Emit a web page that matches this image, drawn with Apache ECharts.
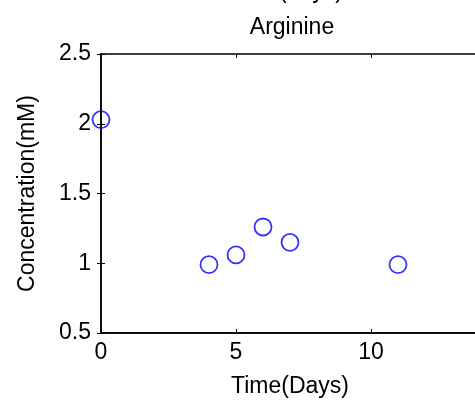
<!DOCTYPE html>
<html>
<head>
    <meta charset="utf-8">
    <title>Arginine</title>
    <script src="https://cdn.jsdelivr.net/npm/echarts@6/dist/echarts.min.js"></script>
    <style>
        html, body { margin: 0; padding: 0; background: #fff; }
    </style>
</head>
<body>
    <div id="main" style="width:475px;height:411px;"></div>
    <script type="text/javascript">

        // measured points (time in days, concentration in mM)
        var days = [0, 4, 5, 6, 7, 11];
        var conc = [2.03, 0.99, 1.06, 1.26, 1.15, 0.99];

        var points = days.map(function (d, i) {
            return [d, conc[i]];
        });

        var myChart = echarts.init(document.getElementById('main'));
        var font = 'Liberation Sans, Arial, sans-serif';

        var option = {
            animation: false,
            backgroundColor: '#fff',
            title: {
                text: 'Arginine',
                left: 287,
                top: 11,
                textAlign: 'center',
                textStyle: { fontFamily: font, fontSize: 23, fontWeight: 'normal', color: '#000' }
            },
            graphic: [{
                type: 'text',
                left: 279,
                top: -20,
                style: { text: '(days)', font: '23px ' + font, fill: '#000' }
            }],
            grid: {
                left: 101,
                top: 54,
                width: 378,
                height: 279,
                outerBoundsMode: 'none',
                show: true,
                borderColor: '#000',
                borderWidth: 1.5,
                backgroundColor: '#fff'
            },
            xAxis: [{
                type: 'value',
                min: 0,
                max: 14,
                interval: 5,
                name: 'Time(Days)',
                nameLocation: 'middle',
                nameGap: 42,
                nameTextStyle: { fontFamily: font, fontSize: 23, color: '#000' },
                axisLine: { lineStyle: { color: '#000', width: 1.5 } },
                axisTick: { inside: true, length: 4, lineStyle: { color: '#000' } },
                axisLabel: { fontFamily: font, fontSize: 23, color: '#000', margin: 8, showMaxLabel: false },
                splitLine: { show: false }
            }, {
                type: 'value',
                position: 'top',
                min: 0,
                max: 14,
                interval: 5,
                axisLine: { show: false },
                axisTick: { inside: true, length: 4, lineStyle: { color: '#000' } },
                axisLabel: { show: false },
                splitLine: { show: false }
            }],
            yAxis: [{
                type: 'value',
                min: 0.5,
                max: 2.5,
                interval: 0.5,
                name: 'Concentration(mM)',
                nameLocation: 'middle',
                nameGap: 62,
                nameTextStyle: { fontFamily: font, fontSize: 23, color: '#000' },
                axisLine: { lineStyle: { color: '#000', width: 1.5 } },
                axisTick: { inside: true, length: 4, lineStyle: { color: '#000' } },
                axisLabel: { fontFamily: font, fontSize: 23, color: '#000', margin: 10 },
                splitLine: { show: false }
            }, {
                type: 'value',
                position: 'right',
                min: 0.5,
                max: 2.5,
                interval: 0.5,
                axisLine: { show: false },
                axisTick: { inside: true, length: 4, lineStyle: { color: '#000' } },
                axisLabel: { show: false },
                splitLine: { show: false }
            }],
            series: [{
                type: 'scatter',
                data: points,
                symbol: 'circle',
                symbolSize: 17,
                itemStyle: {
                    color: 'rgba(0,0,0,0)',
                    borderColor: '#0000ff',
                    borderWidth: 1.8
                },
                z: 5
            }]
        };

        myChart.setOption(option);
    </script>
</body>
</html>
